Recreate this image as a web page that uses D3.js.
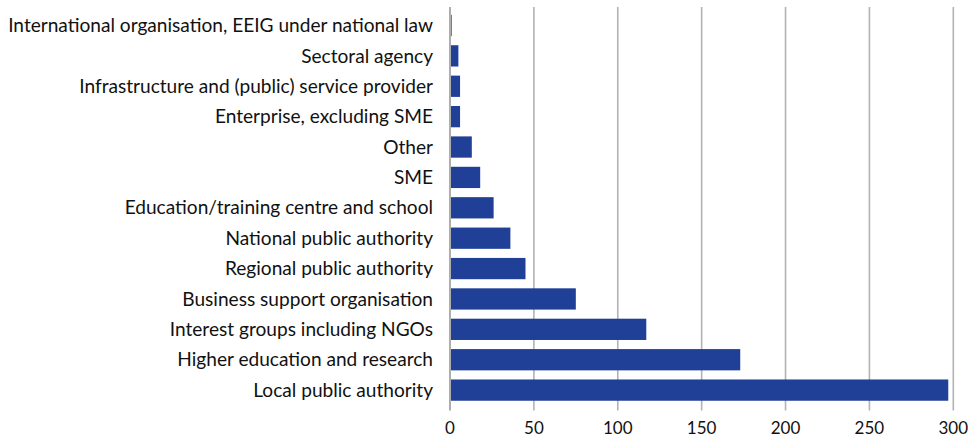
<!DOCTYPE html>
<html><head><meta charset="utf-8">
<script src="https://cdn.jsdelivr.net/npm/d3@7"></script>
<style>
html,body{margin:0;padding:0;background:#fff;}
svg text{font-family:Lato,"Open Sans",sans-serif;fill:#111;}
</style></head>
<body><svg id="chart" width="980" height="437"></svg>
<script>
const categories = [
  "International organisation, EEIG under national law",
  "Sectoral agency",
  "Infrastructure and (public) service provider",
  "Enterprise, excluding SME",
  "Other",
  "SME",
  "Education/training centre and school",
  "National public authority",
  "Regional public authority",
  "Business support organisation",
  "Interest groups including NGOs",
  "Higher education and research",
  "Local public authority"
];
const values = [1, 5, 6, 6, 13, 18, 26, 36, 45, 75, 117, 173, 297];
const xTicks = [0, 50, 100, 150, 200, 250, 300];

const svg = d3.select("#chart");
const x = d3.scaleLinear().domain([0, 300]).range([450, 953.3]);
const y = d3.scaleBand().domain(categories).range([10.3, 405.3]).paddingInner(0.3).paddingOuter(0.15);

// gridlines
svg.append("g").selectAll("line").data(xTicks).join("line")
  .attr("x1", d => x(d)).attr("x2", d => x(d))
  .attr("y1", 7).attr("y2", 410.5)
  .attr("stroke", d => d === 0 ? "#9a9a9a" : "#b3b3b3")
  .attr("stroke-width", 1.6);

// bars
svg.append("g").selectAll("rect").data(values).join("rect")
  .attr("x", x(0) + 1)
  .attr("y", (d, i) => y(categories[i]))
  .attr("width", d => Math.max(0, x(d) - x(0) - 1))
  .attr("height", y.bandwidth())
  .attr("fill", "#1f4096");

// category labels
const lab = svg.append("g").selectAll("text").data(categories).join("text")
  .attr("x", 433)
  .attr("y", d => y(d) + y.bandwidth() / 2)
  .attr("dy", "0.35em")
  .attr("text-anchor", "end")
  .style("font-size", "18px")
  .text(d => d);
// fit longest label to the reference width (~425px)
const w0 = d3.max(lab.nodes(), n => n.getComputedTextLength());
lab.style("font-size", (18 * 425 / w0).toFixed(2) + "px");

// x tick labels
svg.append("g").selectAll("text").data(xTicks).join("text")
  .attr("x", d => x(d))
  .attr("y", 428)
  .attr("dy", "0.35em")
  .attr("text-anchor", "middle")
  .style("font-size", "17px")
  .text(d => d);
</script></body></html>
